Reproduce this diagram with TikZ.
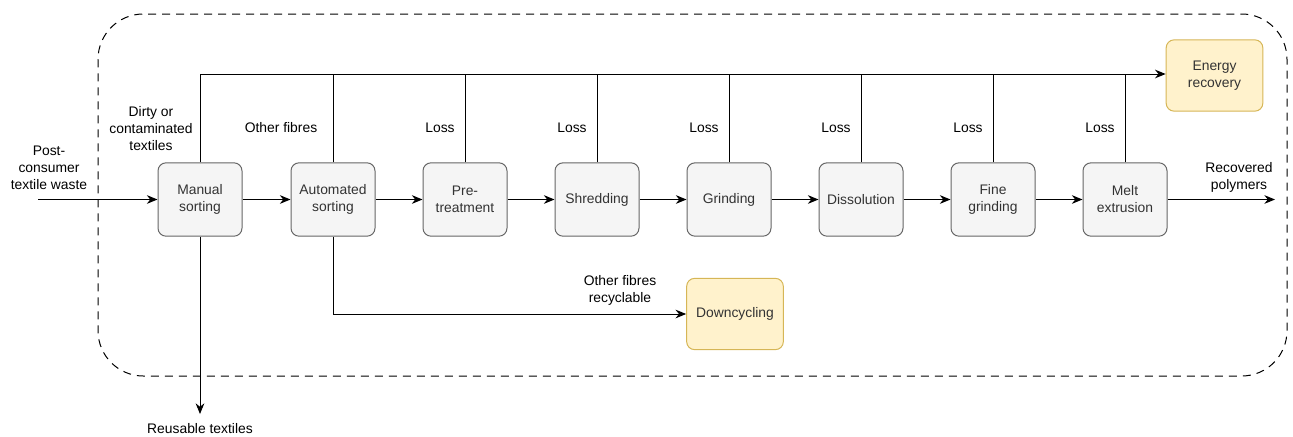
\documentclass[tikz,border=0pt]{standalone}
\usepackage{fontspec}
\setmainfont{Liberation Sans}
\usetikzlibrary{arrows.meta}
\definecolor{boxfill}{HTML}{F5F5F5}
\definecolor{boxline}{HTML}{666666}
\definecolor{boxtext}{HTML}{333333}
\definecolor{outfill}{HTML}{FFF2CC}
\definecolor{outline}{HTML}{D6B656}
\begin{document}
\begin{tikzpicture}[x=0.75pt,y=-0.75pt,
  font=\fontsize{10.4pt}{12.75pt}\selectfont,
  stage/.style={draw=boxline, fill=boxfill, text=boxtext, rounded corners=6pt,
    minimum width=63pt, minimum height=55pt, align=center, inner sep=1pt, line width=0.75pt},
  outcome/.style={draw=outline, fill=outfill, text=boxtext, rounded corners=6pt,
    minimum width=72.5pt, minimum height=53.5pt, align=center, inner sep=1pt, line width=0.75pt},
  lbl/.style={align=center, inner sep=0pt},
  flow/.style={line width=0.75pt, -{Stealth[length=8pt,width=6.5pt]}},
  link/.style={line width=0.75pt}]
\useasboundingbox (0,0) rectangle (1293,436);

% system boundary
\draw[dash pattern=on 6pt off 4.5pt, line width=0.75pt, rounded corners=34pt]
  (98,14) rectangle (1287,376);

% process chain
\node[stage] (manual) at (200,199.5) {Manual\\sorting};
\node[stage] (auto)   at (333,199.5) {Automated\\sorting};
\node[stage] (pre)    at (465,199.5) {Pre-\\treatment};
\node[stage] (shred)  at (597,199.5) {Shredding};
\node[stage] (grind)  at (729,199.5) {Grinding};
\node[stage] (diss)   at (861,199.5) {Dissolution};
\node[stage] (fine)   at (993,199.5) {Fine\\grinding};
\node[stage] (melt)   at (1125,199.5) {Melt\\extrusion};

% end uses
\node[outcome] (energy) at (1214.5,75.5) {Energy\\recovery};
\node[outcome] (down)   at (735,314) {Downcycling};

% free ends
\coordinate (in)     at (38,199.5);
\coordinate (out)    at (1275,199.5);
\coordinate (reuse)  at (200,414);
\coordinate (bus)    at (200,74);
\coordinate (dcturn) at (333,314);

% main flow
\draw[flow] (in) -- (manual);
\draw[flow] (manual) -- (auto);
\draw[flow] (auto) -- (pre);
\draw[flow] (pre) -- (shred);
\draw[flow] (shred) -- (grind);
\draw[flow] (grind) -- (diss);
\draw[flow] (diss) -- (fine);
\draw[flow] (fine) -- (melt);
\draw[flow] (melt) -- (out);

% losses to energy recovery
\draw[flow] (manual.north) -- (bus) -- (bus -| energy.west);
\foreach \n in {auto,pre,shred,grind,diss,fine,melt}
  \draw[link] (\n.north) -- (\n.north |- bus);

% side streams
\draw[flow] (manual.south) -- (reuse);
\draw[flow] (auto.south) -- (dcturn) -- (down.west);

% labels
\node[lbl] at (49,167.5) {Post-\\consumer\\textile waste};
\node[lbl] at (151,129) {Dirty or\\contaminated\\textiles};
\node[lbl] at (281,128) {Other fibres};
\foreach \x in {440,572,704,836,968,1100}
  \node[lbl] at (\x,128) {Loss};
\node[lbl] at (1239,177.5) {Recovered\\polymers};
\node[lbl] at (620,290) {Other fibres\\recyclable};
\node[lbl] at (200,429) {Reusable textiles};
\end{tikzpicture}
\end{document}
